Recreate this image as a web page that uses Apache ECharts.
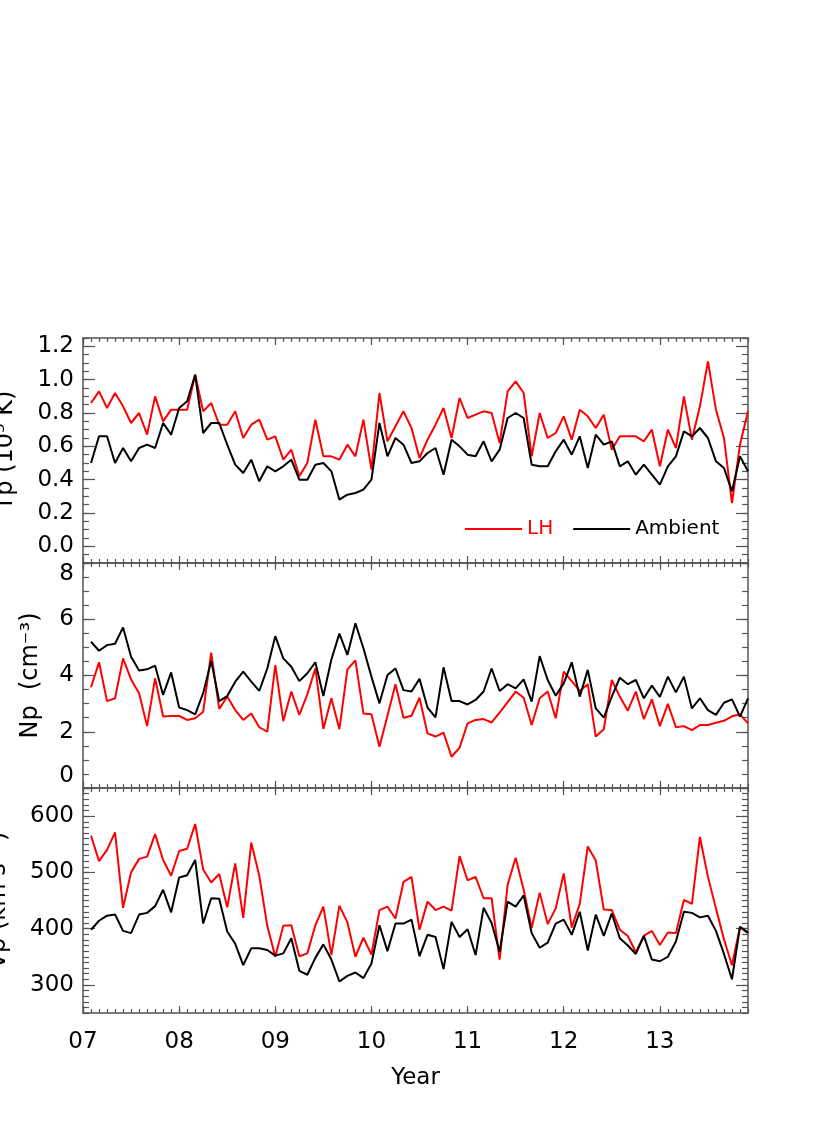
<!DOCTYPE html>
<html>
<head>
<meta charset="utf-8">
<script src="https://cdn.jsdelivr.net/npm/echarts@6/dist/echarts.min.js"></script>
<style>
  html, body { margin: 0; padding: 0; background: #fff; }
  #chart { width: 830px; height: 1127px; }
</style>
</head>
<body>
<div id="chart"></div>
<script>
// monthly values, first point = Feb 2007 (x = months since Jan 2007)
const yearLabels = ["07", "08", "09", "10", "11", "12", "13"];

const tpLH = [0.86, 0.93, 0.83, 0.92, 0.84, 0.74, 0.80, 0.67, 0.90, 0.75, 0.82, 0.82, 0.82, 1.03,
  0.81, 0.86, 0.73, 0.73, 0.81, 0.65, 0.73, 0.76, 0.64, 0.66, 0.52, 0.58, 0.42, 0.50, 0.76,
  0.54, 0.54, 0.52, 0.61, 0.54, 0.76, 0.46, 0.92, 0.63, 0.72, 0.81, 0.71, 0.53, 0.64, 0.73,
  0.83, 0.65, 0.89, 0.77, 0.79, 0.81, 0.80, 0.62, 0.93, 0.99, 0.92, 0.54, 0.80, 0.65, 0.68,
  0.78, 0.64, 0.82, 0.78, 0.71, 0.79, 0.58, 0.66, 0.66, 0.66, 0.63, 0.70, 0.48, 0.70, 0.59,
  0.90, 0.64, 0.84, 1.11, 0.82, 0.65, 0.26, 0.61, 0.81];
const tpAmb = [0.50, 0.66, 0.66, 0.50, 0.59, 0.51, 0.59, 0.61, 0.59, 0.74, 0.67, 0.83, 0.87, 1.03,
  0.68, 0.74, 0.74, 0.61, 0.49, 0.44, 0.52, 0.39, 0.48, 0.45, 0.48, 0.52, 0.40, 0.40, 0.49,
  0.50, 0.45, 0.28, 0.31, 0.32, 0.34, 0.40, 0.74, 0.54, 0.65, 0.61, 0.50, 0.51, 0.56, 0.59,
  0.43, 0.64, 0.60, 0.55, 0.54, 0.63, 0.51, 0.58, 0.77, 0.80, 0.77, 0.49, 0.48, 0.48, 0.57,
  0.64, 0.55, 0.66, 0.47, 0.67, 0.61, 0.63, 0.48, 0.51, 0.43, 0.49, 0.43, 0.37, 0.48, 0.54,
  0.69, 0.66, 0.71, 0.65, 0.51, 0.47, 0.33, 0.54, 0.45];

const npLH = [3.58, 4.47, 3.09, 3.19, 4.61, 3.86, 3.37, 2.20, 3.90, 2.54, 2.56, 2.56, 2.42, 2.48,
  2.71, 4.81, 2.81, 3.25, 2.77, 2.42, 2.65, 2.16, 2.00, 4.37, 2.38, 3.43, 2.60, 3.33, 4.25,
  2.10, 3.19, 2.09, 4.22, 4.54, 2.65, 2.62, 1.47, 2.57, 3.69, 2.50, 2.57, 3.21, 1.94, 1.83,
  1.97, 1.11, 1.43, 2.30, 2.42, 2.45, 2.33, 2.68, 3.05, 3.43, 3.21, 2.24, 3.19, 3.43, 2.48,
  4.14, 3.80, 3.45, 3.69, 1.83, 2.09, 3.84, 3.25, 2.75, 3.43, 2.45, 3.15, 2.20, 2.99, 2.16,
  2.20, 2.06, 2.24, 2.24, 2.32, 2.39, 2.55, 2.62, 2.30];
const npAmb = [5.20, 4.88, 5.08, 5.13, 5.71, 4.67, 4.18, 4.22, 4.35, 3.31, 4.11, 2.86, 2.77, 2.62,
  3.37, 4.52, 3.09, 3.27, 3.78, 4.14, 3.78, 3.45, 4.25, 5.40, 4.61, 4.31, 3.80, 4.08, 4.47,
  3.27, 4.57, 5.49, 4.73, 5.86, 4.97, 3.96, 3.01, 4.02, 4.25, 3.48, 3.43, 3.88, 2.86, 2.51,
  4.29, 3.09, 3.09, 2.97, 3.13, 3.43, 4.25, 3.45, 3.69, 3.54, 3.86, 3.07, 4.69, 3.84, 3.28,
  3.72, 4.47, 3.25, 4.20, 2.83, 2.50, 3.25, 3.92, 3.69, 3.84, 3.19, 3.64, 3.24, 3.96, 3.40,
  3.96, 2.83, 3.19, 2.77, 2.60, 3.03, 3.15, 2.54, 3.19];

const vpLH = [565, 520, 540, 571, 437, 500, 524, 528, 568, 522, 494, 538, 542, 586, 505, 482, 497,
  438, 516, 419, 553, 494, 405, 350, 405, 406, 351, 356, 406, 439, 353, 441, 411, 350, 384,
  354, 433, 439, 418, 483, 492, 398, 448, 433, 439, 432, 529, 486, 492, 454, 454, 345, 478,
  526, 469, 401, 464, 408, 436, 498, 402, 444, 546, 521, 434, 433, 398, 387, 358, 387, 396,
  371, 393, 392, 451, 444, 563, 492, 436, 381, 335, 403, 392];
const vpAmb = [398, 414, 423, 425, 396, 392, 425, 428, 440, 469, 429, 491, 495, 522, 409, 454, 453,
  395, 373, 335, 365, 365, 362, 352, 356, 383, 325, 318, 348, 372, 345, 306, 316, 322, 312,
  338, 406, 360, 409, 409, 416, 351, 389, 385, 328, 412, 385, 399, 353, 437, 410, 359, 448,
  439, 459, 392, 366, 375, 409, 416, 389, 430, 361, 425, 387, 427, 383, 370, 355, 387, 345,
  342, 350, 377, 430, 428, 420, 423, 396, 355, 310, 403, 393];

const FONT = "DejaVu Sans";
const axisColor = "#555";
const lastMonth = 83;
const yearPos = yearLabels.map((_, i) => i * 12);

const panels = [
  { top: 338, name: "Tp (10\u2075 K)", nameGap: 65, min: -0.1, max: 1.25, step: 0.05,
    labels: [0, 0.2, 0.4, 0.6, 0.8, 1.0, 1.2], fmt: v => v.toFixed(1), lh: tpLH, amb: tpAmb },
  { top: 563, name: "Np  (cm\u207B\u00B3)", nameGap: 40, min: 0, max: 8, step: 0.5,
    labels: [0, 2, 4, 6, 8], fmt: v => String(v), lh: npLH, amb: npAmb, edge: true },
  { top: 788, name: "Vp (km s\u207B\u00B9)", nameGap: 72, min: 250, max: 650, step: 10,
    labels: [300, 400, 500, 600], fmt: v => String(v), lh: vpLH, amb: vpAmb }
];

const tickStyle = { color: axisColor, width: 1.2 };
const textBase = { color: "#000", fontFamily: FONT, fontSize: 23 };

const grid = [], xAxis = [], yAxis = [], series = [];

panels.forEach((p, g) => {
  grid.push({ left: 83, right: 82, top: p.top, height: 225, outerBoundsMode: "none", containLabel: false });
  const last = g === panels.length - 1;
  const xb = { type: "value", gridIndex: g, min: 0, max: lastMonth, splitLine: { show: false }, nameMoveOverlap: false };
  const xLine = { show: true, onZero: false, lineStyle: { color: axisColor, width: 1.5 } };
  xAxis.push(
    Object.assign({}, xb, {
      position: "bottom", interval: 1, axisLine: xLine,
      axisTick: { inside: true, length: 4, lineStyle: tickStyle },
      axisLabel: last ? Object.assign({ customValues: yearPos, margin: 18,
        formatter: v => yearLabels[Math.round(v / 12)] }, textBase) : { show: false },
      name: last ? "Year" : "", nameLocation: "middle", nameGap: 54,
      nameTextStyle: textBase
    }),
    Object.assign({}, xb, {
      position: "bottom", axisLine: { show: false, onZero: false },
      axisTick: { inside: true, length: 7, customValues: yearPos, lineStyle: tickStyle },
      axisLabel: { show: false }
    }),
    Object.assign({}, xb, {
      position: "top", interval: 1, axisLine: xLine,
      axisTick: { inside: true, length: 4, lineStyle: tickStyle }, axisLabel: { show: false }
    }),
    Object.assign({}, xb, {
      position: "top", axisLine: { show: false, onZero: false },
      axisTick: { inside: true, length: 7, customValues: yearPos, lineStyle: tickStyle },
      axisLabel: { show: false }
    })
  );

  const yb = { type: "value", gridIndex: g, min: p.min, max: p.max, splitLine: { show: false }, nameMoveOverlap: false };
  const yLine = { show: true, onZero: false, lineStyle: { color: axisColor, width: 1.5 } };
  const labelOpt = Object.assign({ customValues: p.labels, margin: 9, formatter: p.fmt }, textBase);
  if (p.edge) {
    labelOpt.verticalAlignMinLabel = "bottom";
    labelOpt.verticalAlignMaxLabel = "top";
  }
  yAxis.push(
    Object.assign({}, yb, {
      position: "left", interval: p.step, axisLine: yLine,
      axisTick: { inside: true, length: 6, lineStyle: tickStyle },
      axisLabel: labelOpt,
      name: p.name, nameLocation: "middle", nameGap: p.nameGap,
      nameTextStyle: { color: "#000", fontFamily: FONT, fontSize: 24 }
    }),
    Object.assign({}, yb, {
      position: "left", axisLine: { show: false, onZero: false },
      axisTick: { inside: true, length: 12, customValues: p.labels, lineStyle: tickStyle },
      axisLabel: { show: false }
    }),
    Object.assign({}, yb, {
      position: "right", interval: p.step, axisLine: yLine,
      axisTick: { inside: true, length: 6, lineStyle: tickStyle }, axisLabel: { show: false }
    }),
    Object.assign({}, yb, {
      position: "right", axisLine: { show: false, onZero: false },
      axisTick: { inside: true, length: 12, customValues: p.labels, lineStyle: tickStyle },
      axisLabel: { show: false }
    })
  );

  series.push(
    {
      name: "LH", type: "line", xAxisIndex: g * 4, yAxisIndex: g * 4,
      data: p.lh.map((v, i) => [i + 1, v]), showSymbol: false,
      color: "#ff0000", lineStyle: { width: 2, color: "#ff0000" }
    },
    {
      name: "Ambient", type: "line", xAxisIndex: g * 4, yAxisIndex: g * 4,
      data: p.amb.map((v, i) => [i + 1, v]), showSymbol: false,
      color: "#000000", lineStyle: { width: 2, color: "#000000" }
    }
  );
});

const chart = echarts.init(document.getElementById("chart"), null, { renderer: "canvas" });
chart.setOption({
  animation: false,
  backgroundColor: "#fff",
  legend: {
    left: 465, top: 519, padding: 0, itemWidth: 57, itemHeight: 2, itemGap: 20,
    icon: "rect",
    textStyle: { fontFamily: FONT, fontSize: 20 },
    data: [
      { name: "LH", textStyle: { color: "#ff0000" } },
      { name: "Ambient", textStyle: { color: "#000000" } }
    ]
  },
  grid: grid,
  xAxis: xAxis,
  yAxis: yAxis,
  series: series
});
</script>
</body>
</html>
